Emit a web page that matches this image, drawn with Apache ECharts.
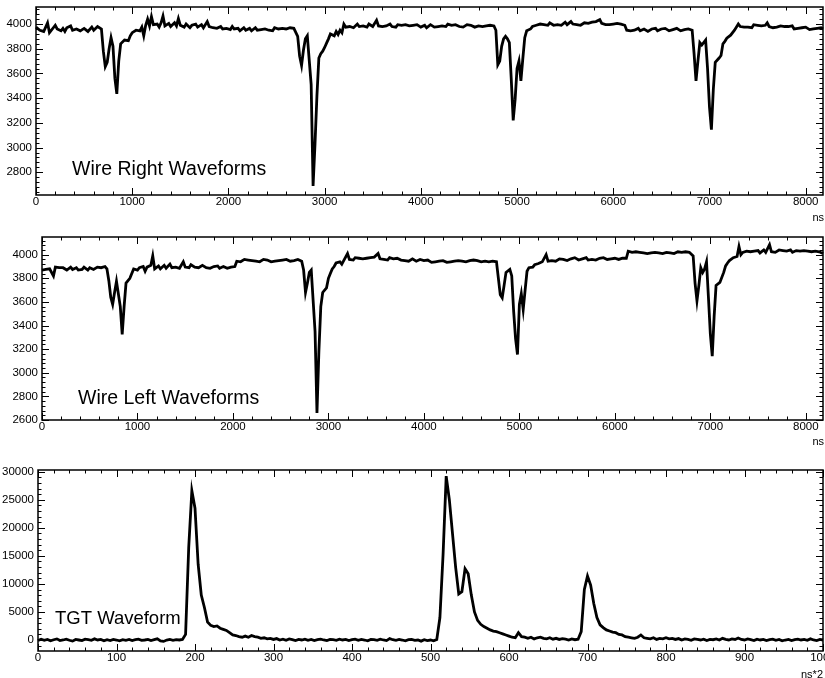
<!DOCTYPE html>
<html><head><meta charset="utf-8">
<script src="https://cdn.jsdelivr.net/npm/echarts@6/dist/echarts.min.js"></script>
<style>html,body{margin:0;padding:0;background:#fff}#c{width:825px;height:678px}</style>
</head><body><div id="c"></div>
<script>
// ---- data ----
const wireStepNs = 20; // one value every 20 ns, starting at 0 ns
const wireRightValues = [
 3975,3960,3950,3965,3940,3955,4010,3930,3935,3970,
 3990,3960,3975,3945,3965,3940,3970,3955,3985,3950,
 3935,3960,3975,3945,3930,3965,3960,3940,3955,3975,
 3950,3965,3980,3970,3960,3780,3655,3690,3800,3890,
 3820,3560,3435,3700,3840,3855,3870,3880,3865,3905,
 3930,3915,3950,3960,3945,3975,3905,3990,4040,3985,
 4060,3995,3980,4000,3975,4010,4065,3985,3995,4005,
 3980,3990,4010,3985,4045,3990,3995,3975,4000,3985,
 3970,3990,3980,4000,3975,3985,3995,3970,3980,4020,
 3980,3990,3970,3985,3965,3975,3980,3960,3975,3965,
 3970,3955,3980,3960,3950,3965,3945,3960,3970,3950,
 3955,3965,3945,3960,3970,3950,3965,3955,3945,3960,
 3965,3950,3960,3945,3970,3955,3960,3950,3965,3955,
 3960,3950,3970,3955,3965,3970,3900,3740,3665,3790,
 3880,3905,3910,3510,2690,3030,3420,3725,3760,3780,
 3810,3845,3880,3920,3930,3905,3940,3915,3950,3930,
 4000,3975,3990,3980,3995,3970,3985,4000,3980,3990,
 3985,3995,3975,4000,3990,3980,3995,4030,3985,3990,
 3980,3995,3985,3990,4000,3980,3990,3975,3995,3985,
 3990,3980,3995,4005,3985,3975,3990,3980,3995,3985,
 3975,3985,3990,3970,3980,3995,3985,3975,3990,3980,
 3995,3985,3990,3980,4000,3985,3990,3975,3995,3985,
 3980,3990,3975,3985,3995,3980,3990,3985,3975,3990,
 3985,3995,3980,3990,3985,3975,3990,3995,3985,3950,
 3670,3700,3820,3880,3900,3880,3850,3550,3220,3390,
 3640,3700,3540,3720,3890,3945,3950,3960,3980,3965,
 3990,3975,4000,3985,3995,4005,3990,4010,4000,3990,
 4005,3995,4010,3990,4000,4015,3995,4005,4020,4000,
 4010,3995,4005,3990,4000,4010,3995,4005,3990,4015,
 4000,4020,4010,4035,4005,4015,3995,4010,3995,4005,
 4000,3995,4005,3990,4000,3995,3990,3950,3955,3945,
 3960,3950,3955,3965,3945,3955,3960,3950,3940,3955,
 3960,3950,3965,3945,3955,3960,3950,3965,3955,3945,
 3960,3955,3950,3965,3955,3945,3960,3955,3965,3960,
 3955,3950,3760,3540,3700,3850,3830,3820,3870,3640,
 3330,3145,3470,3690,3705,3725,3745,3840,3860,3885,
 3890,3910,3925,3950,3940,4000,3980,3995,3975,3990,
 3975,3985,3970,3995,3980,3990,3975,3985,3970,3990,
 4010,3980,3990,3970,3985,3975,3965,3985,3970,3980,
 3965,3980,3970,3985,3960,3975,3965,3980,3970,3960,
 3975,3965,3955,3970,3960,3975,3965,3955,3970,3960
];
const wireLeftValues = [
 3870,3885,3875,3890,3880,3870,3820,3895,3880,3890,
 3875,3890,3880,3870,3885,3895,3875,3880,3890,3870,
 3885,3875,3895,3880,3870,3890,3885,3875,3880,3895,
 3880,3890,3885,3900,3880,3780,3640,3580,3680,3775,
 3790,3560,3325,3560,3760,3770,3800,3790,3880,3895,
 3870,3890,3880,3900,3860,3895,3880,3910,3990,3880,
 3885,3905,3880,3895,3910,3885,3900,3920,3890,3905,
 3895,3910,3885,3900,3940,3895,3905,3890,3915,3900,
 3895,3905,3890,3900,3910,3895,3890,3900,3885,3895,
 3900,3890,3905,3885,3895,3900,3890,3885,3900,3895,
 3890,3900,3945,3955,3940,3950,3960,3945,3955,3940,
 3950,3960,3945,3955,3940,3950,3960,3945,3955,3950,
 3940,3955,3945,3960,3950,3940,3955,3945,3960,3950,
 3945,3955,3950,3940,3960,3950,3945,3870,3680,3760,
 3850,3870,3870,3350,2660,3180,3560,3680,3690,3720,
 3800,3840,3880,3900,3930,3915,3940,3920,3950,3935,
 4010,3960,3970,3955,3975,3960,3970,3980,3965,3975,
 3970,3960,3975,3965,3980,3970,4010,3965,3975,3960,
 3970,3955,3975,3960,3965,3950,3970,3960,3955,3965,
 3950,3960,3945,3955,3965,3950,3945,3955,3960,3945,
 3950,3940,3955,3945,3935,3950,3940,3955,3945,3940,
 3950,3945,3935,3950,3940,3955,3945,3935,3950,3940,
 3945,3950,3940,3935,3950,3945,3955,3940,3950,3945,
 3940,3950,3945,3955,3940,3950,3945,3955,3940,3800,
 3660,3635,3740,3850,3865,3875,3820,3520,3290,3155,
 3580,3670,3535,3700,3860,3890,3905,3895,3915,3910,
 3925,3920,3940,3930,4000,3945,3955,3950,3960,3945,
 3955,3965,3950,3960,3975,3950,3960,3965,3950,3975,
 3960,3955,3970,3965,3960,3975,3955,3965,3960,3970,
 3955,3965,3970,3960,3975,3965,3960,3970,3965,3960,
 3970,3965,3960,3975,3970,3965,3970,4030,4015,4020,
 4010,4025,4015,4020,4005,4015,4025,4010,4020,4015,
 4010,4020,4005,4015,4025,4010,4015,4020,4005,4015,
 4020,4010,4015,4025,4010,4020,4015,4025,4030,4020,
 4030,3990,3760,3610,3740,3890,3850,3880,3940,3640,
 3330,3140,3480,3740,3755,3765,3780,3850,3905,3930,
 3950,3960,3975,3990,3985,4070,4000,4020,4010,4030,
 4015,4025,4010,4030,4020,4035,4015,4025,4040,4020,
 4030,4085,4025,4035,4020,4030,4040,4025,4035,4020,
 4030,4025,4040,4020,4030,4035,4020,4030,4025,4035,
 4020,4030,4015,4025,4020,4030,4015,4025,4020,4010
];
const tgtStep = 4; // one value every 4 (ns*2), starting at 0
const tgtValues = [
 -100,150,-50,100,-150,50,200,-100,0,150,-50,-200,100,0,-100,150,50,-50,200,0,100,-150,50,-100,100,
 0,-150,50,-50,100,-100,50,150,-50,0,100,-100,50,200,-150,-250,0,100,-50,50,0,100,1000,16500,26600,
 23500,13500,8000,5800,3200,2600,2400,2500,2100,1900,1700,1300,900,800,600,500,700,500,800,600,500,300,400,200,300,
 100,250,0,150,-50,200,50,-100,100,0,150,-50,100,-100,50,150,0,-100,100,50,-50,150,0,100,-100,
 50,150,-50,100,0,-150,100,50,-50,150,0,-100,250,50,-50,100,0,-150,50,100,-50,0,-200,50,-100,
 0,-150,100,4000,15200,29200,25000,19000,13000,8200,8600,12700,11800,8000,5000,3500,2800,2400,2100,1800,1600,1500,1300,1100,900,
 700,500,400,1300,600,500,300,500,200,400,500,300,200,400,150,300,100,250,150,0,200,50,150,1500,9000,
 11400,9800,6500,4000,2700,2200,1800,1600,1400,1300,1000,900,600,500,400,300,500,900,400,300,200,400,100,300,200,
 400,200,300,100,250,0,200,100,-50,200,100,0,150,-100,100,50,200,0,300,100,0,200,100,350,100,
 0,200,50,-100,150,0,100,-100,50,150,-50,100,-150,0,100,-100,50,150,0,100,-50,200,0,-100,100,
 0
];
// tick labels
const wireXLabels = [0,1000,2000,3000,4000,5000,6000,7000,8000];
const rightYLabels = [2800,3000,3200,3400,3600,3800,4000];
const leftYLabels = [2600,2800,3000,3200,3400,3600,3800,4000];
const tgtXLabels = [0,100,200,300,400,500,600,700,800,900,1000];
const tgtYLabels = [0,5000,10000,15000,20000,25000,30000];
const titles = ['Wire Right Waveforms','Wire Left Waveforms','TGT Waveform'];
const xUnits = ['ns','ns','ns*2'];

// ---- helpers ----
const FONT = '"Liberation Sans", Arial, Helvetica, sans-serif';
function range(a,b,s){const r=[];for(let v=a;v<=b+1e-9;v+=s)r.push(Math.round(v*1000)/1000);return r;}

const panels = [
  {grid:{left:36, top:7, width:787, height:188}, x:[0,8180], y:[2616,4138],
   xMaj:wireXLabels, xMin:range(0,8180,200), yMaj:rightYLabels, yMin:range(2640,4138,40)},
  {grid:{left:42, top:237, width:781, height:183}, x:[0,8180], y:[2600,4150],
   xMaj:wireXLabels, xMin:range(0,8180,200), yMaj:leftYLabels, yMin:range(2600,4150,40)},
  {grid:{left:38, top:470, width:785, height:181}, x:[0,1000], y:[-1960,30300],
   xMaj:tgtXLabels, xMin:range(0,1000,20), yMaj:tgtYLabels, yMin:range(-1000,30300,1000)}
];

const grids = panels.map(p=>Object.assign({}, p.grid, {show:true, borderColor:'#000', borderWidth:1.5,
  backgroundColor:'transparent', containLabel:false, outerBoundsMode:'none'}));

const labelStyle = m => ({show:true, color:'#000', fontFamily:FONT, fontSize:11.5, margin:m,
  formatter: v => String(v), hideOverlap:false, showMinLabel:true, showMaxLabel:true});

const xAxes = panels.map((p,i)=>({type:'value', gridIndex:i, position:'bottom', min:p.x[0], max:p.x[1],
  axisLine:{show:false, onZero:false}, splitLine:{show:false}, axisTick:{show:false},
  axisLabel:Object.assign(labelStyle(1), {customValues:p.xMaj})}));
const yAxes = panels.map((p,i)=>({type:'value', gridIndex:i, position:'left', min:p.y[0], max:p.y[1],
  axisLine:{show:false, onZero:false}, splitLine:{show:false}, axisTick:{show:false},
  axisLabel:Object.assign(labelStyle(4), {customValues:p.yMaj})}));

function lineSeries(idx, vals, step){
  return {type:'line', xAxisIndex:idx, yAxisIndex:idx, symbol:'none', showSymbol:false,
    data: vals.map((v,i)=>[i*step, v]), lineStyle:{color:'#000', width:2.8, join:'miter'}, clip:true, silent:true, z:2};
}

// tick marks (ROOT style: inside, on all four sides), placed through the axis scales
const MAJ = 7, MIN = 3.5;
function tickSeries(idx){
  const p = panels[idx];
  const data = [];
  p.xMin.forEach(v=>data.push([v,0])); p.xMaj.forEach(v=>data.push([v,1]));
  p.yMin.forEach(v=>data.push([v,2])); p.yMaj.forEach(v=>data.push([v,3]));
  return {type:'custom', xAxisIndex:idx, yAxisIndex:idx, silent:true, z:5, clip:false,
    data: data,
    renderItem: function(params, api){
      const cs = params.coordSys;
      const v = api.value(0), k = api.value(1);
      const st = {stroke:'#000', lineWidth:1};
      if (k < 2) {
        const px = Math.round(api.coord([v, p.y[0]])[0]) + 0.5;
        const len = k ? MAJ : MIN;
        const b = cs.y + cs.height, t = cs.y;
        return {type:'group', children:[
          {type:'line', shape:{x1:px, y1:b, x2:px, y2:b-len}, style:st},
          {type:'line', shape:{x1:px, y1:t, x2:px, y2:t+len}, style:st}
        ]};
      } else {
        const py = Math.round(api.coord([p.x[0], v])[1]) + 0.5;
        const len = k === 3 ? MAJ : MIN;
        const l = cs.x, r = cs.x + cs.width;
        return {type:'group', children:[
          {type:'line', shape:{x1:l, y1:py, x2:l+len, y2:py}, style:st},
          {type:'line', shape:{x1:r, y1:py, x2:r-len, y2:py}, style:st}
        ]};
      }
    }
  };
}

const titlePos = [[72,170],[78,398.5],[55,618.5]];
const titleSize = [19.5,19.5,18.5];
const unitPos = [[824,217.5],[824,442],[823,675]];
const graphic = [];
titles.forEach((t,i)=>graphic.push({type:'text', x:titlePos[i][0], y:titlePos[i][1], z:10,
  style:{text:t, fill:'#000', fontFamily:FONT, fontSize:titleSize[i], align:'left', verticalAlign:'middle'}}));
xUnits.forEach((t,i)=>graphic.push({type:'text', x:unitPos[i][0], y:unitPos[i][1], z:10,
  style:{text:t, fill:'#000', fontFamily:FONT, fontSize:11, align:'right', verticalAlign:'middle'}}));

const chart = echarts.init(document.getElementById('c'), null, {renderer:'canvas'});
chart.setOption({
  animation:false,
  backgroundColor:'#fff',
  grid: grids,
  xAxis: xAxes,
  yAxis: yAxes,
  series:[
    lineSeries(0, wireRightValues, wireStepNs),
    lineSeries(1, wireLeftValues, wireStepNs),
    lineSeries(2, tgtValues, tgtStep),
    tickSeries(0), tickSeries(1), tickSeries(2)
  ],
  graphic: graphic
});
</script></body></html>
